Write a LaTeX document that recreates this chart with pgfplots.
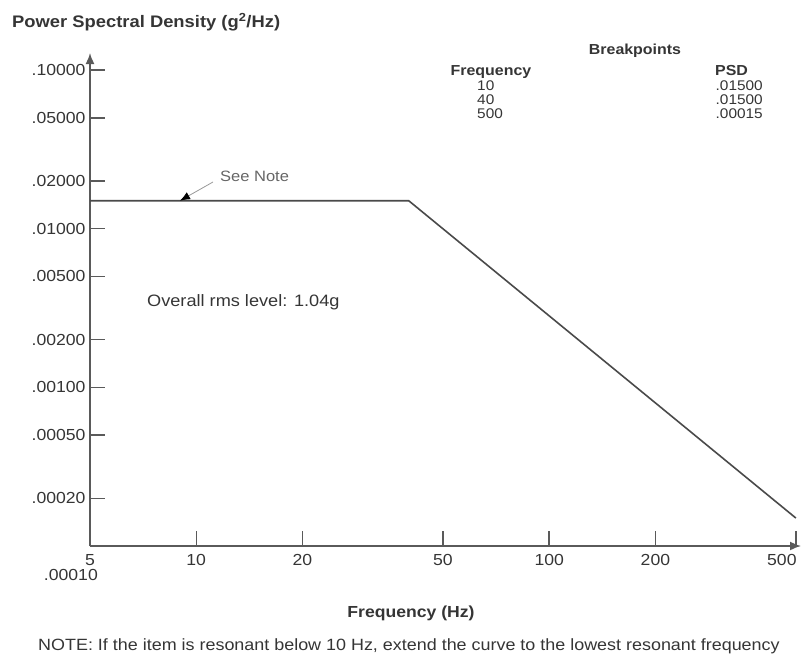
\documentclass[border=0pt]{standalone}
\usepackage{pgfplots}
\pgfplotsset{compat=1.18}
\usepackage{fontspec}
\setmainfont{Liberation Sans}[FakeStretch=1.1]
\usetikzlibrary{arrows.meta}
\definecolor{txt}{HTML}{353535}
\definecolor{ax}{HTML}{5A5A5A}
\definecolor{dl}{HTML}{4A4A4A}
\newcommand{\fs}[1]{\fontsize{#1}{#1}\selectfont}
\begin{document}
\begin{tikzpicture}[x=1pt,y=1pt]
\path (-90,-110) rectangle (714,546);
\begin{axis}[
  at={(0,0)}, anchor=south west, scale only axis,
  width=711pt, height=493pt,
  xmode=log, ymode=log,
  xmin=5, xmax=517, ymin=1e-4, ymax=0.128,
  enlargelimits=false,
  axis x line=bottom, axis y line=left,
  axis line style={ax, line width=1.6pt, -{Latex[length=11pt,width=9pt]}},
  tick align=inside,
  major tick length=15pt, minor tick length=0pt,
  tick style={ax, line width=1.5pt},
  xtick={5,10,20,50,100,200},
  xticklabels={5,10,20,50,100,200},
  extra x ticks={500},
  extra x tick labels={500},
  extra x tick style={xticklabel style={xshift=-14pt}},
  ytick={0.1,0.05,0.02,0.01,0.005,0.002,0.001,0.0005,0.0002},
  yticklabels={.10000,.05000,.02000,.01000,.00500,.00200,.00100,.00050,.00020},
  /pgf/number format/assume math mode=true,
  ticklabel style={font=\fs{16}, text=txt},
  xticklabel style={yshift=-5pt},
  yticklabel style={xshift=-1pt},
  clip=false,
]
\addplot[dl, line width=1.6pt] coordinates {(5,0.015) (40,0.015) (500,0.00015)};
\end{axis}
% y label at the origin
\node[anchor=east, inner sep=0pt, font=\fs{16}, text=txt] at (8,-29) {.00010};
% title
\node[anchor=west, inner sep=0pt, font=\fs{16.7}\bfseries, text=txt] at (-78,524) {Power Spectral Density (g\textsuperscript{2}/Hz)};
% breakpoint table
\node[inner sep=0pt, font=\fs{14.5}\bfseries, text=txt] at (545,495) {Breakpoints};
\node[inner sep=0pt, font=\fs{14.5}\bfseries, text=txt] at (401,474) {Frequency};
\node[inner sep=0pt, font=\fs{14.5}\bfseries, text=txt, anchor=west] at (625,475) {PSD};
\node[anchor=west, inner sep=0pt, font=\fs{14}, text=txt] at (387,460) {10};
\node[anchor=west, inner sep=0pt, font=\fs{14}, text=txt] at (387,446) {40};
\node[anchor=west, inner sep=0pt, font=\fs{14}, text=txt] at (387,432) {500};
\node[anchor=east, inner sep=0pt, font=\fs{14}, text=txt] at (673,460) {.01500};
\node[anchor=east, inner sep=0pt, font=\fs{14}, text=txt] at (673,446) {.01500};
\node[anchor=east, inner sep=0pt, font=\fs{14}, text=txt] at (673,432) {.00015};
% see note
\node[anchor=west, inner sep=0pt, font=\fs{15}, text=black!60] at (130,370) {See Note};
\draw[black!40, line width=0.8pt, -{Latex[length=10pt,width=8pt,color=black]}] (123,364) -- (90,345.3);
% overall
\node[anchor=west, inner sep=0pt, font=\fs{16.5}, text=txt] at (57,244) {Overall rms level: 1.04g};
% x label
\node[inner sep=0pt, font=\fs{16}\bfseries, text=txt] at (321,-67) {Frequency (Hz)};
% note
\node[anchor=west, inner sep=0pt, font=\fs{16.3}, text=txt] at (-52,-100) {NOTE: If the item is resonant below 10 Hz, extend the curve to the lowest resonant frequency};
\end{tikzpicture}
\end{document}
